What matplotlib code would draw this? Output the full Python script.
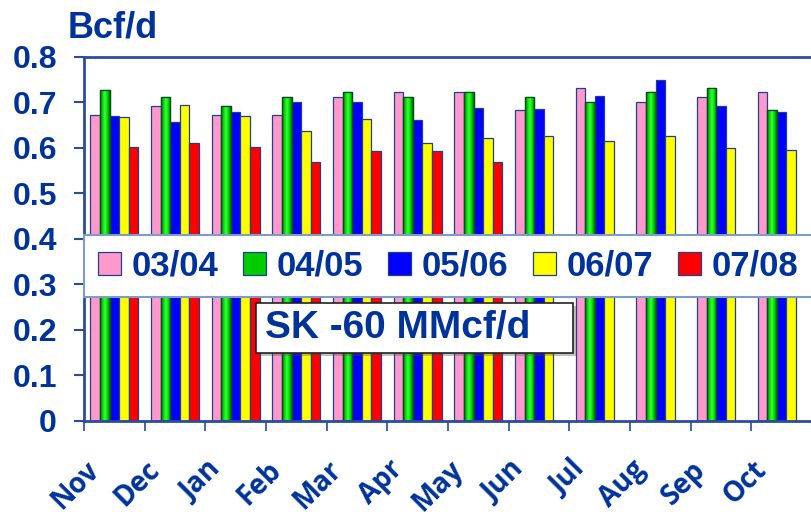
import numpy as np
import matplotlib
matplotlib.use('Agg')
import matplotlib.pyplot as plt
import matplotlib.transforms as mtransforms
from matplotlib.colors import LinearSegmentedColormap
from matplotlib.patches import Rectangle
from matplotlib import patheffects

months = ['Nov', 'Dec', 'Jan', 'Feb', 'Mar', 'Apr', 'May', 'Jun', 'Jul', 'Aug', 'Sep', 'Oct']
seasons = ['03/04', '04/05', '05/06', '06/07', '07/08']

s0304 = [0.672, 0.692, 0.672, 0.672, 0.712, 0.722, 0.722, 0.683, 0.732, 0.702, 0.713, 0.722]
s0405 = [0.727, 0.711, 0.692, 0.711, 0.722, 0.712, 0.722, 0.712, 0.702, 0.722, 0.732, 0.683]
s0506 = [0.671, 0.656, 0.678, 0.700, 0.702, 0.661, 0.688, 0.685, 0.715, 0.749, 0.693, 0.680]
s0607 = [0.668, 0.694, 0.670, 0.638, 0.663, 0.610, 0.621, 0.627, 0.615, 0.627, 0.600, 0.596]
s0708 = [0.601, 0.610, 0.603, 0.570, 0.593, 0.593, 0.568]   # Nov-May only

yticks = [0, 0.1, 0.2, 0.3, 0.4, 0.5, 0.6, 0.7, 0.8]
ytick_labels = ['0', '0.1', '0.2', '0.3', '0.4', '0.5', '0.6', '0.7', '0.8']

note = 'SK -60 MMcf/d'
unit = 'Bcf/d'

colors = ['#FF99CC', '#00CC00', '#0000FF', '#FFFF00', '#FF0000']
navy = '#003399'
spine_col = '#2B4C9B'
edge = '#1F3F8F'

fig = plt.figure(figsize=(8.11, 5.15), dpi=100)
ax = fig.add_axes([84 / 811, 94.5 / 515, 728 / 811, 363.5 / 515])

x = np.arange(len(months))
w = 0.158
series = [s0304, s0405, s0506, s0607, s0708]
containers = []
for i, vals in enumerate(series):
    xs = x[:len(vals)] + (i - 2) * w
    bc = ax.bar(xs, vals, width=w, color=colors[i], edgecolor=edge, linewidth=0.9,
                label=seasons[i], zorder=2)
    containers.append(bc)

# green bars get a dark-bright-dark gradient
gcmap = LinearSegmentedColormap.from_list('g', ['#006E00', '#00D800', '#3CFF3C', '#00D800', '#006E00'])
grad = np.linspace(0, 1, 64).reshape(1, -1)
for p in containers[1].patches:
    x0, y0 = p.get_x(), p.get_y()
    im = ax.imshow(grad, cmap=gcmap, extent=[x0, x0 + p.get_width(), y0, y0 + p.get_height()],
                   aspect='auto', zorder=2.1, interpolation='bilinear')
    im.set_clip_path(p)
    ax.add_patch(Rectangle((x0, y0), p.get_width(), p.get_height(), fill=False,
                           edgecolor='#0A4A20', linewidth=0.9, zorder=2.2))

ax.set_xlim(-0.5, len(months) - 0.5)
ax.set_ylim(0, 0.8)

ax.set_yticks(yticks)
ax.set_yticklabels(ytick_labels, fontfamily='Liberation Sans', fontweight='bold',
                   fontsize=23, color=navy)
ax.tick_params(axis='y', length=7.5, width=1.5, color=spine_col, pad=12)

# boundary ticks (major) and centered labels (minor)
ax.set_xticks(np.arange(len(months)) - 0.5)
ax.set_xticklabels([])
ax.tick_params(axis='x', which='major', length=7.5, width=1.2, color=spine_col)
ax.set_xticks(x, minor=True)
ax.set_xticklabels(months, minor=True, rotation=45, ha='right', va='top',
                   fontfamily='Open Sans', fontweight='bold', fontsize=20, color=navy)
ax.tick_params(axis='x', which='minor', length=0, pad=25)
offset = mtransforms.ScaledTranslation(-9 / 100, 0, fig.dpi_scale_trans)
for lab in ax.get_xticklabels(minor=True):
    lab.set_transform(lab.get_transform() + offset)

for s in ['left', 'top', 'bottom', 'right']:
    ax.spines[s].set_color(spine_col)
    ax.spines[s].set_linewidth(2)

# legend band across the plot
band = Rectangle((0, 0.341), 1.03, 0.168, transform=ax.transAxes, facecolor='white',
                 edgecolor='#7F9CC9', linewidth=1.5, zorder=5, clip_on=False)
ax.add_patch(band)
leg = ax.legend(handles=containers, loc='center left', bbox_to_anchor=(0.0, 0.425),
                ncol=5, prop={'family': 'Liberation Sans', 'weight': 'bold', 'size': 25},
                labelcolor=navy, handlelength=0.66, handleheight=0.63, handletextpad=0.3,
                columnspacing=0.72, borderaxespad=0, borderpad=0.4, frameon=False)
leg.set_zorder(6)
leg.legend_handles[1].set_facecolor('#00CC00')

box = Rectangle((172 / 728, 0.185), 317 / 728, 0.1375, transform=ax.transAxes, facecolor='white',
                edgecolor='#222222', linewidth=1.2, zorder=6)
box.set_path_effects([patheffects.withSimplePatchShadow(offset=(2, -2), alpha=0.35)])
ax.add_patch(box)
ax.text(181 / 728, 0.185 + 0.1375 / 2, note, transform=ax.transAxes, ha='left',
        va='center', fontfamily='Liberation Sans', fontweight='bold', fontsize=28,
        color=navy, zorder=7)

fig.text(68 / 811, 1 - 37 / 515, unit, ha='left', va='baseline', fontfamily='Liberation Sans',
         fontweight='bold', fontsize=26, color=navy)

fig.savefig('out.png', dpi=100)
